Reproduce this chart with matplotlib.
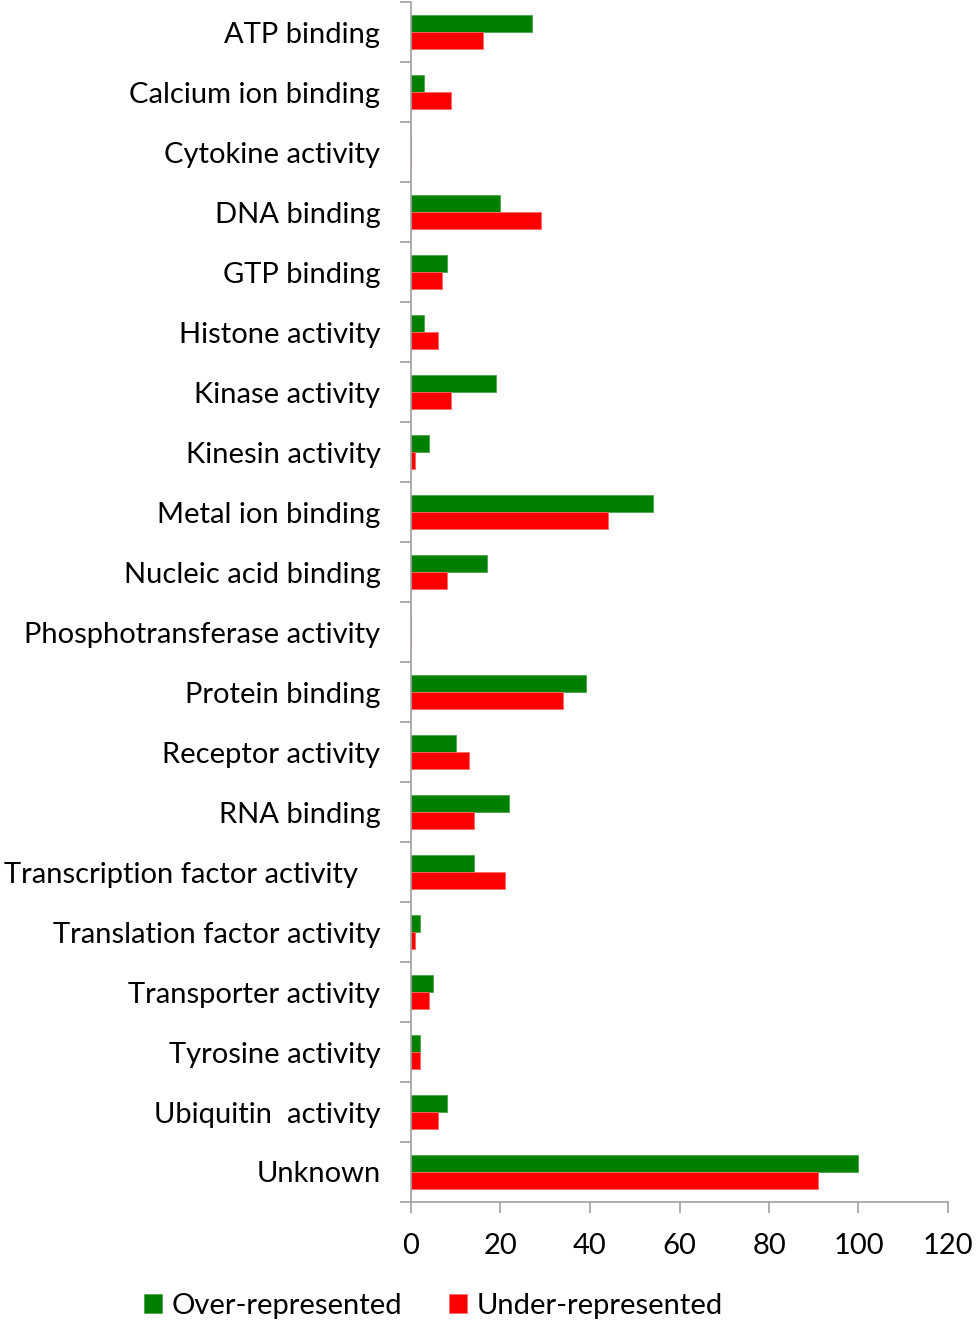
import matplotlib
matplotlib.use("Agg")
import matplotlib.pyplot as plt
import numpy as np

categories = [
    "ATP binding", "Calcium ion binding", "Cytokine activity", "DNA binding",
    "GTP binding", "Histone activity", "Kinase activity", "Kinesin activity",
    "Metal ion binding", "Nucleic acid binding", "Phosphotransferase activity",
    "Protein binding", "Receptor activity", "RNA binding",
    "Transcription factor activity   ", "Translation factor activity",
    "Transporter activity", "Tyrosine activity", "Ubiquitin  activity", "Unknown",
]
over_represented = [27, 3, 0, 20, 8, 3, 19, 4, 54, 17, 0, 39, 10, 22, 14, 2, 5, 2, 8, 100]
under_represented = [16, 9, 0, 29, 7, 6, 9, 1, 44, 8, 0, 34, 13, 14, 21, 1, 4, 2, 6, 91]
x_ticks = [0, 20, 40, 60, 80, 100, 120]

plt.rcParams['font.family'] = ['Lato', 'DejaVu Sans']
FS = 21

fig = plt.figure(figsize=(9.79, 13.22), dpi=100)
ax = fig.add_axes([411/979, 1 - 1202/1322, (948-411)/979, 1200/1322])

y = np.arange(len(categories))
h = 0.283
ax.barh(y - h/2, over_represented, height=h, color='#008000', edgecolor='#4CA64C', linewidth=0.6, label='Over-represented')
ax.barh(y + h/2, under_represented, height=h, color='#FF0000', edgecolor='#FF6666', linewidth=0.6, label='Under-represented')

ax.set_ylim(len(categories) - 0.5, -0.5)
ax.set_xlim(0, 120)
ax.set_xticks(x_ticks)
ax.set_xticklabels([str(t) for t in x_ticks], fontsize=FS)
ax.set_yticks(y)
ax.set_yticklabels(categories, fontsize=FS)
ax.tick_params(axis='y', length=0, pad=22)
ax.set_yticks(np.arange(len(categories) + 1) - 0.5, minor=True)
ax.tick_params(axis='y', which='minor', length=8, color='#A0A0A0', width=1.2)
ax.tick_params(axis='x', length=8, color='#A0A0A0', width=1.2, pad=14)

for s in ['top', 'right']:
    ax.spines[s].set_visible(False)
for s in ['left', 'bottom']:
    ax.spines[s].set_color('#A0A0A0')
    ax.spines[s].set_linewidth(1.2)

fig.legend(loc='center', bbox_to_anchor=(0.443, 1 - 1306/1322), ncol=2, frameon=False,
           fontsize=FS, handlelength=0.6, handleheight=0.6, handletextpad=0.35, columnspacing=1.6)

fig.savefig('out.png', dpi=100)
